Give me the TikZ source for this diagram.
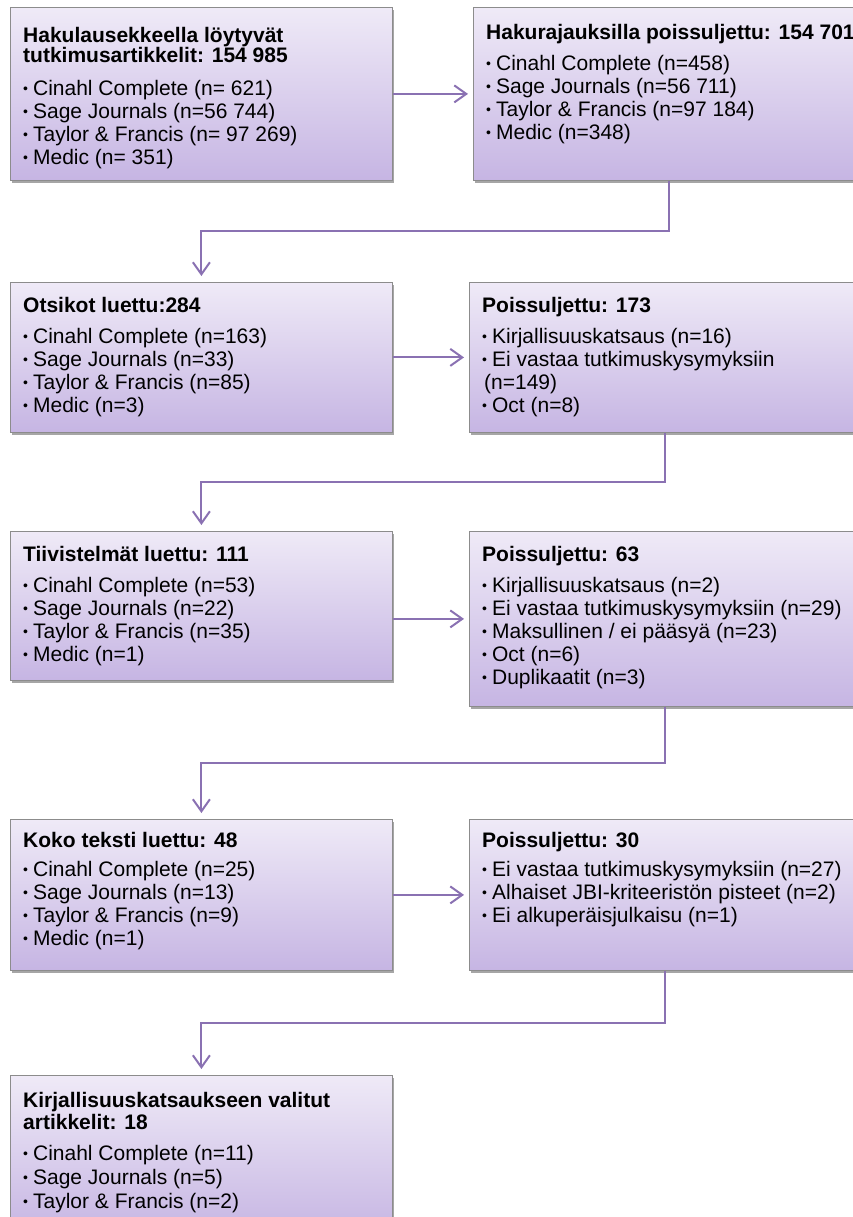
\documentclass[tikz,border=0pt]{standalone}
\usepackage{fontspec}
\setmainfont{Liberation Sans}
\usepackage{xcolor}
\usetikzlibrary{arrows.meta,positioning,calc,shadows}

\definecolor{boxtop}{RGB}{239,234,247}
\definecolor{boxbot}{RGB}{198,181,227}
\definecolor{boxline}{RGB}{140,140,140}
\definecolor{linkcol}{RGB}{138,113,178}

\newcommand{\itm}{\raisebox{2pt}{\fontsize{14}{14}\selectfont\textbullet}\hspace{5pt}}

\tikzset{
  stage/.style={draw=boxline, line width=0.8pt, anchor=north west, inner sep=0pt,
    top color=boxtop, bottom color=boxbot, minimum width=382pt,
    drop shadow={shadow xshift=2pt, shadow yshift=-3pt, fill=black, opacity=0.35}},
  widestage/.style={stage, minimum width=392pt},
  stagetext/.style={anchor=north west, inner sep=0pt, align=left,
    font=\fontsize{21}{23}\selectfont},
  link/.style={draw=linkcol, line width=2pt,
    -{Straight Barb[length=12pt,width=17pt,line width=2pt]}, shorten >=5pt}
}

\begin{document}
\begin{tikzpicture}[x=1pt,y=-1pt]
\path[use as bounding box] (0,0) rectangle (853,1217);
\clip (0,0) rectangle (853,1217);

% boxes
\node[stage, minimum height=173pt] (haku) at (10,7) {};
\node[widestage, minimum height=173pt] (rajaus) at (473,7) {};
\node[stage, minimum height=150pt] (otsikot) at (10,282) {};
\node[widestage, minimum height=150pt] (pois1) at (469,282) {};
\node[stage, minimum height=149pt] (tiiv) at (10,531) {};
\node[widestage, minimum height=175pt] (pois2) at (469,531) {};
\node[stage, minimum height=151pt] (koko) at (10,819) {};
\node[widestage, minimum height=151pt] (pois3) at (469,819) {};
\node[stage, minimum height=160pt] (valitut) at (10,1075) {};

% texts
\node[stagetext] (hakut) at ([shift={(13,20)}]haku.north west)
  {\textbf{Hakulausekkeella löytyvät}\\[-3pt]
   \textbf{tutkimusartikkelit: 154 985}\\[10pt]
   \itm Cinahl Complete (n= 621)\\
   \itm Sage Journals (n=56 744)\\
   \itm Taylor \& Francis (n= 97 269)\\
   \itm Medic (n= 351)};
\node[stagetext] (rajaust) at ([shift={(13,17)}]rajaus.north west)
  {\textbf{Hakurajauksilla poissuljettu: 154 701}\\[8pt]
   \itm Cinahl Complete (n=458)\\
   \itm Sage Journals (n=56 711)\\
   \itm Taylor \& Francis (n=97 184)\\
   \itm Medic (n=348)};
\node[stagetext] (otsikott) at ([shift={(13,15)}]otsikot.north west)
  {\textbf{Otsikot luettu:284}\\[8pt]
   \itm Cinahl Complete (n=163)\\
   \itm Sage Journals (n=33)\\
   \itm Taylor \& Francis (n=85)\\
   \itm Medic (n=3)};
\node[stagetext] (pois1t) at ([shift={(13,15)}]pois1.north west)
  {\textbf{Poissuljettu: 173}\\[8pt]
   \itm Kirjallisuuskatsaus (n=16)\\
   \itm Ei vastaa tutkimuskysymyksiin\\
   \hspace{2pt}(n=149)\\
   \itm Oct (n=8)};
\node[stagetext] (tiivt) at ([shift={(13,15)}]tiiv.north west)
  {\textbf{Tiivistelmät luettu: 111}\\[8pt]
   \itm Cinahl Complete (n=53)\\
   \itm Sage Journals (n=22)\\
   \itm Taylor \& Francis (n=35)\\
   \itm Medic (n=1)};
\node[stagetext] (pois2t) at ([shift={(13,15)}]pois2.north west)
  {\textbf{Poissuljettu: 63}\\[8pt]
   \itm Kirjallisuuskatsaus (n=2)\\
   \itm Ei vastaa tutkimuskysymyksiin (n=29)\\
   \itm Maksullinen / ei pääsyä (n=23)\\
   \itm Oct (n=6)\\
   \itm Duplikaatit (n=3)};
\node[stagetext] (kokot) at ([shift={(13,13)}]koko.north west)
  {\textbf{Koko teksti luettu: 48}\\[6pt]
   \itm Cinahl Complete (n=25)\\
   \itm Sage Journals (n=13)\\
   \itm Taylor \& Francis (n=9)\\
   \itm Medic (n=1)};
\node[stagetext] (pois3t) at ([shift={(13,13)}]pois3.north west)
  {\textbf{Poissuljettu: 30}\\[6pt]
   \itm Ei vastaa tutkimuskysymyksiin (n=27)\\
   \itm Alhaiset JBI-kriteeristön pisteet (n=2)\\
   \itm Ei alkuperäisjulkaisu (n=1)};
\node[stagetext] (valitutt) at ([shift={(13,17)}]valitut.north west)
  {\textbf{Kirjallisuuskatsaukseen valitut}\\[-1pt]
   \textbf{artikkelit: 18}\\[8pt]
   \itm Cinahl Complete (n=11)\\[1pt]
   \itm Sage Journals (n=5)\\[1pt]
   \itm Taylor \& Francis (n=2)};

% arrows to the right
\draw[link] (haku.east) -- (rajaus.west);
\draw[link] (otsikot.east) -- (pois1.west);
\draw[link] (tiiv.east |- pois2.west) -- (pois2.west);
\draw[link] (koko.east) -- (pois3.west);

% arrows down to the next row
\draw[link, shorten >=6pt] (rajaus.south) -- ($(rajaus.south)!.5!(rajaus.south |- otsikot.north)$) -| (otsikot.north);
\draw[link, shorten >=6pt] (pois1.south) -- ($(pois1.south)!.5!(pois1.south |- tiiv.north)$) -| (tiiv.north);
\draw[link, shorten >=6pt] (pois2.south) -- ($(pois2.south)!.5!(pois2.south |- koko.north)$) -| (koko.north);
\draw[link, shorten >=6pt] (pois3.south) -- ($(pois3.south)!.5!(pois3.south |- valitut.north)$) -| (valitut.north);
\end{tikzpicture}
\end{document}
